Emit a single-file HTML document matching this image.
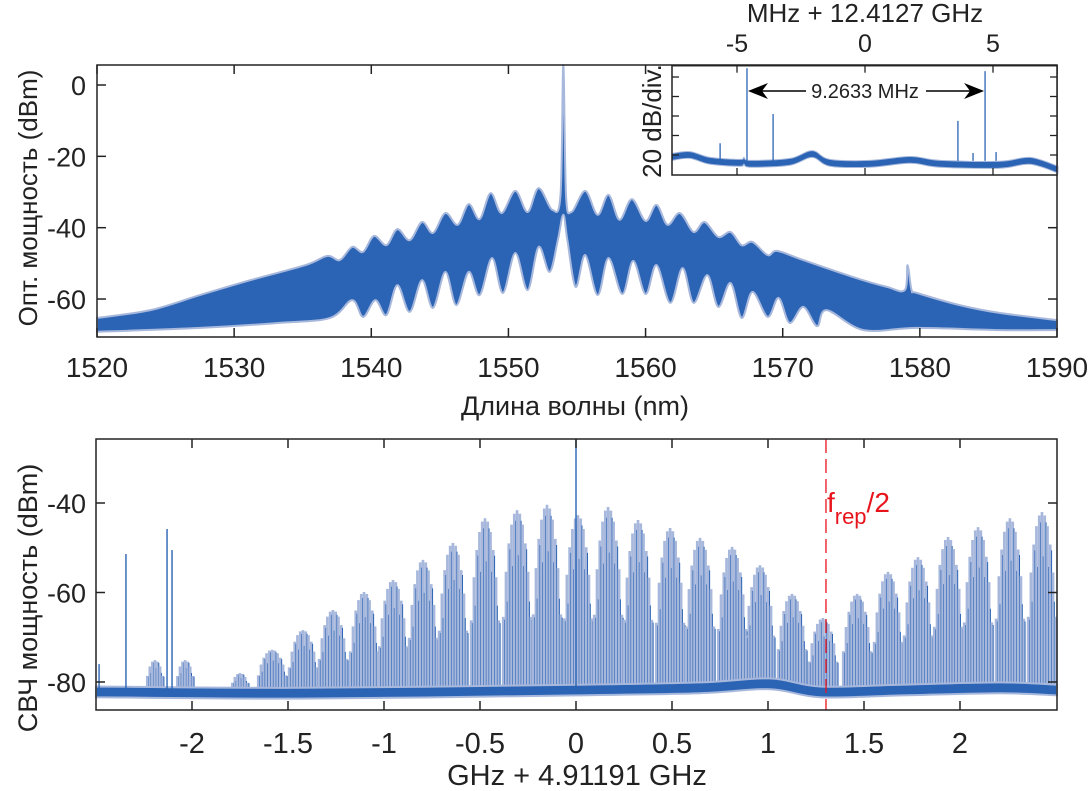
<!DOCTYPE html>
<html><head><meta charset="utf-8"><style>
html,body{margin:0;padding:0;background:#fff}
svg{display:block}
text{font-family:"Liberation Sans",Arial,sans-serif;fill:#222}
</style></head><body>
<svg id="fig" width="1092" height="791" viewBox="0 0 1092 791" xmlns="http://www.w3.org/2000/svg">
<g id="top"></g>
<g id="inset"></g>
<g id="bot"></g>
</svg>
<script>
// ---------- top plot data (optical spectrum envelope) ----------
const upperNm=[1520,1523.9,1527.5,1531.2,1535.2,1536.8,1537.7,1538.6,1539.4,1540.2,1541.1,1541.9,1542.8,1543.7,1544.5,1545.4,1546.3,1547.1,1547.9,1548.7,1549.5,1550.5,1551.4,1552.2,1553.2,1553.8,1554.0,1554.2,1554.6,1555.6,1556.5,1557.3,1558.1,1559.0,1560.0,1560.8,1561.6,1562.5,1563.5,1564.3,1565.3,1566.2,1567.0,1567.8,1568.9,1569.6,1571.5,1575.1,1577.6,1578.9,1579.1,1579.4,1579.8,1582.9,1585.8,1590];
const upperDb=[-65.3,-63.1,-58.9,-54.7,-50.5,-47.9,-49.1,-45.4,-46.8,-42.3,-44.9,-40.4,-43.5,-38.4,-41.5,-35.9,-39.2,-33.4,-37.6,-30.3,-35.9,-29.7,-35.6,-28.9,-35.0,-30.8,5.6,-30.8,-35.6,-29.7,-36.4,-30.8,-37.8,-32.0,-38.1,-33.6,-39.2,-35.9,-41.2,-38.4,-42.6,-41.2,-44.9,-44.0,-47.7,-46.5,-49.1,-53.8,-56.6,-57.5,-50.5,-57.5,-58.3,-61.7,-63.9,-65.9];
const lowerNm=[1520,1527.5,1533.3,1537.0,1538.6,1539.4,1540.3,1541.1,1541.9,1542.8,1543.7,1544.5,1545.4,1546.2,1547.1,1547.9,1548.8,1549.6,1550.5,1551.4,1552.2,1553.0,1553.6,1554.0,1554.3,1554.9,1555.6,1556.5,1557.3,1558.3,1559.1,1560.0,1560.8,1561.8,1562.7,1563.5,1564.5,1565.3,1566.2,1567.0,1567.8,1568.9,1569.7,1570.5,1571.5,1572.5,1573.2,1575.9,1579.8,1585.8,1590];
const lowerDb=[-69.2,-68.1,-66.7,-65.3,-60.3,-65.0,-60.3,-64.5,-56.1,-63.6,-54.7,-62.5,-52.4,-61.7,-52.4,-58.9,-48.5,-58.3,-47.1,-57.5,-45.4,-52.4,-43.5,-36.4,-43.5,-56.6,-47.7,-58.9,-48.5,-58.6,-49.3,-58.6,-50.5,-61.1,-51.3,-61.1,-53.3,-62.2,-55.5,-65.3,-58.0,-65.0,-59.7,-66.7,-62.2,-67.6,-63.1,-68.7,-68.1,-68.7,-68.7];
const topXTicks=[1520,1530,1540,1550,1560,1570,1580,1590];
const topYTicks=[0,-20,-40,-60];
// ---------- inset data ----------
const insetBaseMHz=[-7.54,-6.84,-6.05,-4.88,-4.73,-4.49,-2.93,-2.07,-1.37,0.2,1.76,2.93,5.27,6.45,7.54];
const insetBaseDb=[-82,-80,-86,-88,-86,-89,-87,-79,-88,-89,-85,-89,-90,-86,-95];
const insetSpikeMHz=[-5.66,-4.61,-3.59,3.63,4.22,4.69,5.12];
const insetSpikeDb=[-68,9,-38,-45,-78,6,-77];
const insetXTicks=[-5,0,5];
const insetYTicks=[-80,-60,-40,-20,0];
// ---------- bottom plot data ----------
const lobeGHz=[-2.193,-2.036,-1.750,-1.583,-1.422,-1.266,-1.104,-0.953,-0.797,-0.641,-0.474,-0.307,-0.151,0.010,0.167,0.323,0.490,0.646,0.813,0.958,1.125,1.286,1.464,1.625,1.781,1.938,2.094,2.260,2.427];
const lobeDb=[-75.1,-75.1,-78.0,-72.8,-68.4,-63.9,-59.9,-57.2,-52.7,-48.9,-43.4,-41.6,-40.4,-42.7,-40.9,-43.8,-45.6,-47.8,-49.8,-53.9,-60.3,-65.7,-60.3,-55.4,-52.1,-47.6,-45.4,-43.4,-42.0];
const baseGHz=[-2.5,-1.44,0,0.646,1.01,1.27,1.69,2.21,2.505];
const baseDb=[-82.2,-82.5,-81.8,-81.3,-80.4,-82.2,-81.8,-81.3,-81.8];
const spikeGHz=[-2.484,-2.344,-2.130,-2.104,0];
const spikeDb=[-76,-51.4,-45.8,-50.5,-25.7];
const botXTicks=[-2,-1.5,-1,-0.5,0,0.5,1,1.5,2];
const botXLabels=["-2","-1.5","-1","-0.5","0","0.5","1","1.5","2"];
const botYTicks=[-40,-60,-80];
const halfRep=1.302;

const NS="http://www.w3.org/2000/svg";
function mk(parent,tag,attrs,txt){const e=document.createElementNS(NS,tag);for(const k in attrs)e.setAttribute(k,attrs[k]);if(txt!==undefined)e.textContent=txt;parent.appendChild(e);return e;}
const DARK="#2b64b4", LIGHT="#a7b8dc";
// smooth path through points (Catmull-Rom)
function smooth(P){let d="M"+P[0][0].toFixed(1)+","+P[0][1].toFixed(1);
 for(let i=0;i<P.length-1;i++){const p0=P[i-1]||P[i],p1=P[i],p2=P[i+1],p3=P[i+2]||p2;
  const c1=[p1[0]+(p2[0]-p0[0])/6,p1[1]+(p2[1]-p0[1])/6],c2=[p2[0]-(p3[0]-p1[0])/6,p2[1]-(p3[1]-p1[1])/6];
  d+=" C"+c1[0].toFixed(1)+","+c1[1].toFixed(1)+" "+c2[0].toFixed(1)+","+c2[1].toFixed(1)+" "+p2[0].toFixed(1)+","+p2[1].toFixed(1);}
 return d;}

// ===== TOP =====
(function(){
 const g=document.getElementById('top');
 const L=97,R=1057,T=65,B=337;
 const x=v=>L+(v-1520)/(1590-1520)*(R-L);
 const y=v=>85-3.567*v;
 const yc=v=>Math.max(T,Math.min(B,y(v)));
 const up=upperNm.map((n,i)=>[x(n),yc(upperDb[i])]);
 const lo=lowerNm.map((n,i)=>[x(n),yc(lowerDb[i])]);
 const lr=lo.slice().reverse();
 const d=smooth(up)+" L"+lr[0][0].toFixed(1)+","+lr[0][1].toFixed(1)+smooth(lr).replace(/^M[^C]*/,'')+" Z";
 const p=mk(g,'path',{d:d,fill:DARK,stroke:LIGHT,'stroke-width':2,'stroke-linejoin':'round'});
 
 
 const f=mk(g,'rect',{x:L,y:T,width:R-L,height:B-T,fill:'none',stroke:'#222','stroke-width':1.5});
 
 
 topXTicks.forEach(v=>{
  mk(g,'line',{x1:x(v),x2:x(v),y1:B,y2:B-9,stroke:'#222','stroke-width':1.5});
  mk(g,'line',{x1:x(v),x2:x(v),y1:T,y2:T+9,stroke:'#222','stroke-width':1.5});
  const t=mk(g,'text',{x:x(v),y:377,'font-size':28,'text-anchor':'middle'},String(v));
  
  
 });
 topYTicks.forEach(v=>{
  mk(g,'line',{x1:L,x2:L+9,y1:y(v),y2:y(v),stroke:'#222','stroke-width':1.5});
  mk(g,'line',{x1:R,x2:R-9,y1:y(v),y2:y(v),stroke:'#222','stroke-width':1.5});
  const t=mk(g,'text',{x:86,y:y(v)+10,'font-size':27,'text-anchor':'end'},String(v));
  
  
 });
 const xt=mk(g,'text',{x:575,y:415,'font-size':27,'text-anchor':'middle'},"Длина волны  (nm)");
 
 
 const yt=mk(g,'text',{x:0,y:0,'font-size':26,'text-anchor':'middle',transform:'translate(37,198) rotate(-90)'},"Опт. мощность (dBm)");
 
 
})();

// ===== INSET =====
(function(){
 const g=document.getElementById('inset');
 const L=672,R=1057,T=65.7,B=175;
 const x=v=>865+v*25.6;
 const y=v=>155-(v+80)*0.975;
 const yc=v=>Math.max(T,Math.min(B,y(v)));
 mk(g,'rect',{x:L,y:T,width:R-L,height:B-T,fill:'#fff'});
 const up=insetBaseMHz.map((m,i)=>[x(m),yc(insetBaseDb[i]+3.5)]);
 const lo=insetBaseMHz.map((m,i)=>[x(m),yc(insetBaseDb[i]-3.5)]).reverse();
 const d=smooth(up)+" L"+lo[0][0].toFixed(1)+","+lo[0][1].toFixed(1)+smooth(lo).replace(/^M[^C]*/,'')+" Z";
 const p=mk(g,'path',{d:d,fill:DARK,stroke:LIGHT,'stroke-width':1});
 
 
 insetSpikeMHz.forEach((m,i)=>{
  const s=mk(g,'line',{x1:x(m),x2:x(m),y1:yc(-86),y2:yc(insetSpikeDb[i]),stroke:DARK,'stroke-width':1.3});
  
  
 });
 const f=mk(g,'rect',{x:L,y:T,width:R-L,height:B-T,fill:'none',stroke:'#222','stroke-width':1.5});
 
 
 insetXTicks.forEach(v=>{
  mk(g,'line',{x1:x(v),x2:x(v),y1:T,y2:T+7,stroke:'#222','stroke-width':1.3});
  mk(g,'line',{x1:x(v),x2:x(v),y1:B,y2:B-7,stroke:'#222','stroke-width':1.3});
  const t=mk(g,'text',{x:x(v),y:52,'font-size':25,'text-anchor':'middle'},String(v));
  
  
 });
 insetYTicks.forEach(v=>{
  mk(g,'line',{x1:L,x2:L+7,y1:y(v),y2:y(v),stroke:'#222','stroke-width':1.3});
  mk(g,'line',{x1:R,x2:R-7,y1:y(v),y2:y(v),stroke:'#222','stroke-width':1.3});
 });
 const t1=mk(g,'text',{x:865,y:22,'font-size':26,'text-anchor':'middle'},"MHz + 12.4127 GHz");
 
 
 const t2=mk(g,'text',{x:0,y:0,'font-size':26,'text-anchor':'middle',transform:'translate(661,121) rotate(-90)'},"20 dB/div.");
 
 
 const xa=x(insetSpikeMHz[1]), xb=x(insetSpikeMHz[5]), ya=91;
 const ar=mk(g,'g',{});
 
 
 mk(ar,'line',{x1:xa+4,x2:806,y1:ya,y2:ya,stroke:'#000','stroke-width':1.5});
 mk(ar,'line',{x1:926,x2:xb-4,y1:ya,y2:ya,stroke:'#000','stroke-width':1.5});
 mk(ar,'polygon',{points:`${xa+1},${ya} ${xa+21},${ya-8} ${xa+15},${ya} ${xa+21},${ya+8}`,fill:'#000'});
 mk(ar,'polygon',{points:`${xb-1},${ya} ${xb-21},${ya-8} ${xb-15},${ya} ${xb-21},${ya+8}`,fill:'#000'});
 const t3=mk(g,'text',{x:865,y:98,'font-size':20,'text-anchor':'middle'},"9.2633 MHz");
 
 
})();

// ===== BOTTOM =====
(function(){
 const g=document.getElementById('bot');
 const L=96,R=1057,T=439,B=710;
 const x=v=>576+v*192;
 const y=v=>503-(v+40)*4.475;
 const yc=v=>Math.max(T,Math.min(B,y(v)));
 const baseAt=v=>{for(let i=0;i<baseGHz.length-1;i++){if(v<=baseGHz[i+1]){const t=(v-baseGHz[i])/(baseGHz[i+1]-baseGHz[i]);return baseDb[i]+t*(baseDb[i+1]-baseDb[i]);}}return baseDb[baseDb.length-1];};
 lobeGHz.forEach((c,i)=>{
  const lg=mk(g,'g',{});
  
  
  const small=i<3, hw=small?0.04:0.072, n=small?3:5, step=hw/n;
  const b=baseAt(c);
  for(let k=-n;k<=n;k++){
   const u=k/(n+0.6);
   const env=Math.pow(Math.cos(u*Math.PI/2),0.5);
   const top=b+(lobeDb[i]-b)*env;
   const xx=x(c+k*step);
   mk(lg,'line',{x1:xx,x2:xx,y1:y(b),y2:yc(top),stroke:LIGHT,'stroke-width':2.7});
   const dk=b+(lobeDb[i]-b)*env*((k%2)?0.96:0.75);
   mk(lg,'line',{x1:xx+1.3,x2:xx+1.3,y1:y(b),y2:yc(dk),stroke:DARK,'stroke-width':1});
  }
 });
 const up=baseGHz.map((v,i)=>[x(v),y(baseDb[i]+1.2)]);
 const lo=baseGHz.map((v,i)=>[x(v),y(baseDb[i]-1.2)]).reverse();
 const d=smooth(up)+" L"+lo[0][0].toFixed(1)+","+lo[0][1].toFixed(1)+smooth(lo).replace(/^M[^C]*/,'')+" Z";
 const p=mk(g,'path',{d:d,fill:DARK,stroke:LIGHT,'stroke-width':2});
 
 
 spikeGHz.forEach((s,i)=>{
  const l=mk(g,'line',{x1:x(s),x2:x(s),y1:y(baseAt(s)),y2:yc(spikeDb[i]),stroke:DARK,'stroke-width':1.4});
  
  
 });
 const dl=mk(g,'line',{x1:x(halfRep),x2:x(halfRep),y1:T,y2:B,stroke:'#e8141c','stroke-width':1.3,'stroke-dasharray':'14,6'});
 
 
 const fr=mk(g,'text',{x:x(halfRep)+1,y:512,'font-size':28,style:'fill:#e8141c'});
 
 
 mk(fr,'tspan',{},'f');
 mk(fr,'tspan',{dy:12,'font-size':22},'rep');
 mk(fr,'tspan',{dy:-12},'/2');
 const f=mk(g,'rect',{x:L,y:T,width:R-L,height:B-T,fill:'none',stroke:'#222','stroke-width':1.5});
 
 
 botXTicks.forEach((v,i)=>{
  mk(g,'line',{x1:x(v),x2:x(v),y1:B,y2:B-9,stroke:'#222','stroke-width':1.5});
  mk(g,'line',{x1:x(v),x2:x(v),y1:T,y2:T+9,stroke:'#222','stroke-width':1.5});
  const t=mk(g,'text',{x:x(v),y:753,'font-size':29,'text-anchor':'middle'},botXLabels[i]);
  
  
 });
 botYTicks.forEach(v=>{
  mk(g,'line',{x1:L,x2:L+9,y1:y(v),y2:y(v),stroke:'#222','stroke-width':1.5});
  mk(g,'line',{x1:R,x2:R-9,y1:y(v),y2:y(v),stroke:'#222','stroke-width':1.5});
  const t=mk(g,'text',{x:86,y:y(v)+10,'font-size':27,'text-anchor':'end'},String(v));
  
  
 });
 const xt=mk(g,'text',{x:577,y:785,'font-size':29,'text-anchor':'middle'},"GHz + 4.91191 GHz");
 
 
 const yt=mk(g,'text',{x:0,y:0,'font-size':27,'text-anchor':'middle',transform:'translate(37,598) rotate(-90)'},"СВЧ мощность (dBm)");
 
 
})();
</script>
</body></html>
